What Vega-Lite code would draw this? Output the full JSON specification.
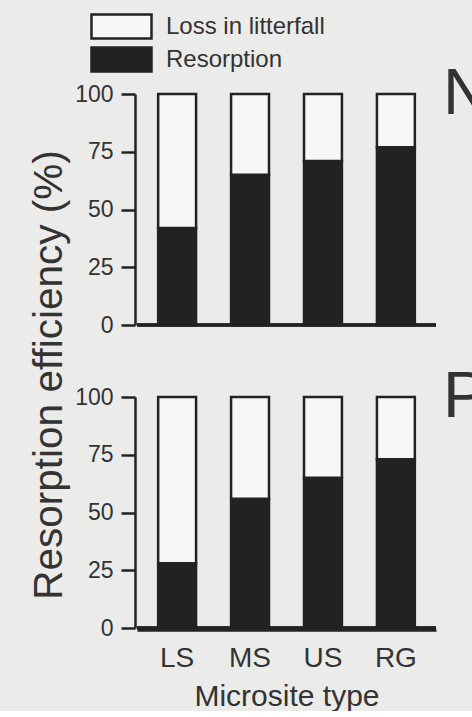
{
  "$schema": "https://vega.github.io/schema/vega-lite/v6.json",
  "background": "#ebebea",
  "padding": {"left": 30, "top": 13, "right": 0, "bottom": 0},
  "title": {
    "text": "Resorption efficiency (%)",
    "orient": "left",
    "anchor": "middle",
    "fontSize": 40.5,
    "font": "Liberation Sans",
    "fontWeight": "normal",
    "color": "#333333",
    "offset": 4,
    "dx": -13
  },
  "data": {
    "values": [
      {"nutrient": "N", "site": "LS", "part": "Resorption", "value": 42},
      {"nutrient": "N", "site": "LS", "part": "Loss in litterfall", "value": 58},
      {"nutrient": "N", "site": "MS", "part": "Resorption", "value": 65},
      {"nutrient": "N", "site": "MS", "part": "Loss in litterfall", "value": 35},
      {"nutrient": "N", "site": "US", "part": "Resorption", "value": 71},
      {"nutrient": "N", "site": "US", "part": "Loss in litterfall", "value": 29},
      {"nutrient": "N", "site": "RG", "part": "Resorption", "value": 77},
      {"nutrient": "N", "site": "RG", "part": "Loss in litterfall", "value": 23},
      {"nutrient": "P", "site": "LS", "part": "Resorption", "value": 28},
      {"nutrient": "P", "site": "LS", "part": "Loss in litterfall", "value": 72},
      {"nutrient": "P", "site": "MS", "part": "Resorption", "value": 56},
      {"nutrient": "P", "site": "MS", "part": "Loss in litterfall", "value": 44},
      {"nutrient": "P", "site": "US", "part": "Resorption", "value": 65},
      {"nutrient": "P", "site": "US", "part": "Loss in litterfall", "value": 35},
      {"nutrient": "P", "site": "RG", "part": "Resorption", "value": 73},
      {"nutrient": "P", "site": "RG", "part": "Loss in litterfall", "value": 27}
    ]
  },
  "facet": {
    "row": {
      "field": "nutrient",
      "type": "nominal",
      "header": {
        "title": null,
        "labelOrient": "right",
        "labelAngle": 0,
        "labelAnchor": "start",
        "labelAlign": "right",
        "labelBaseline": "middle",
        "labelFontSize": 65,
        "labelFont": "Liberation Sans",
        "labelColor": "#333333",
        "labelPadding": 5
      }
    }
  },
  "spacing": {"row": 68},
  "spec": {
    "width": 299,
    "height": 231,
    "encoding": {
      "y": {
        "field": "value",
        "type": "quantitative",
        "stack": "zero",
        "scale": {"domain": [0, 100], "nice": false},
        "axis": {
          "title": null,
          "values": [0, 25, 50, 75, 100],
          "grid": false,
          "tickSize": 14,
          "tickWidth": 2.5,
          "tickColor": "#222222",
          "domainWidth": 2.5,
          "domainColor": "#222222",
          "labelFontSize": 23,
          "labelFont": "Liberation Sans",
          "labelColor": "#333333",
          "labelPadding": 8
        }
      }
    },
    "layer": [
      {
        "mark": {"type": "bar", "stroke": "#222222", "strokeWidth": 2.5},
        "encoding": {
          "x": {
            "field": "site",
            "type": "nominal",
            "sort": ["LS", "MS", "US", "RG"],
            "scale": {"paddingInner": 0.48, "paddingOuter": 0.29},
            "axis": {
              "title": "Microsite type",
              "ticks": false,
              "labelAngle": 0,
              "labelFontSize": 28,
              "labelFont": "Liberation Sans",
              "labelColor": "#333333",
              "labelPadding": 14,
              "titleFontSize": 30,
              "titleFont": "Liberation Sans",
              "titleFontWeight": "normal",
              "titleColor": "#333333",
              "titlePadding": 9,
              "domainWidth": 2.5,
              "domainColor": "#222222"
            }
          },
          "fill": {
            "field": "part",
            "type": "nominal",
            "scale": {"domain": ["Loss in litterfall", "Resorption"], "range": ["#f7f7f6", "#222222"]},
            "legend": {
              "title": null,
              "orient": "none",
              "legendX": -29,
              "legendY": -81,
              "symbolType": "M-2.5,-1H2.5V1H-2.5Z",
              "symbolSize": 576,
              "symbolStrokeColor": "#222222",
              "symbolStrokeWidth": 2.5,
              "labelFontSize": 24,
              "labelFont": "Liberation Sans",
              "labelColor": "#333333",
              "labelOffset": 31,
              "rowPadding": -2
            }
          },
          "order": {"field": "part", "sort": "descending"}
        }
      },
      {
        "mark": {"type": "rule", "stroke": "#222222", "strokeWidth": 2.5},
        "encoding": {"y": {"datum": 0}}
      }
    ]
  },
  "config": {
    "view": {"stroke": null}
  }
}
